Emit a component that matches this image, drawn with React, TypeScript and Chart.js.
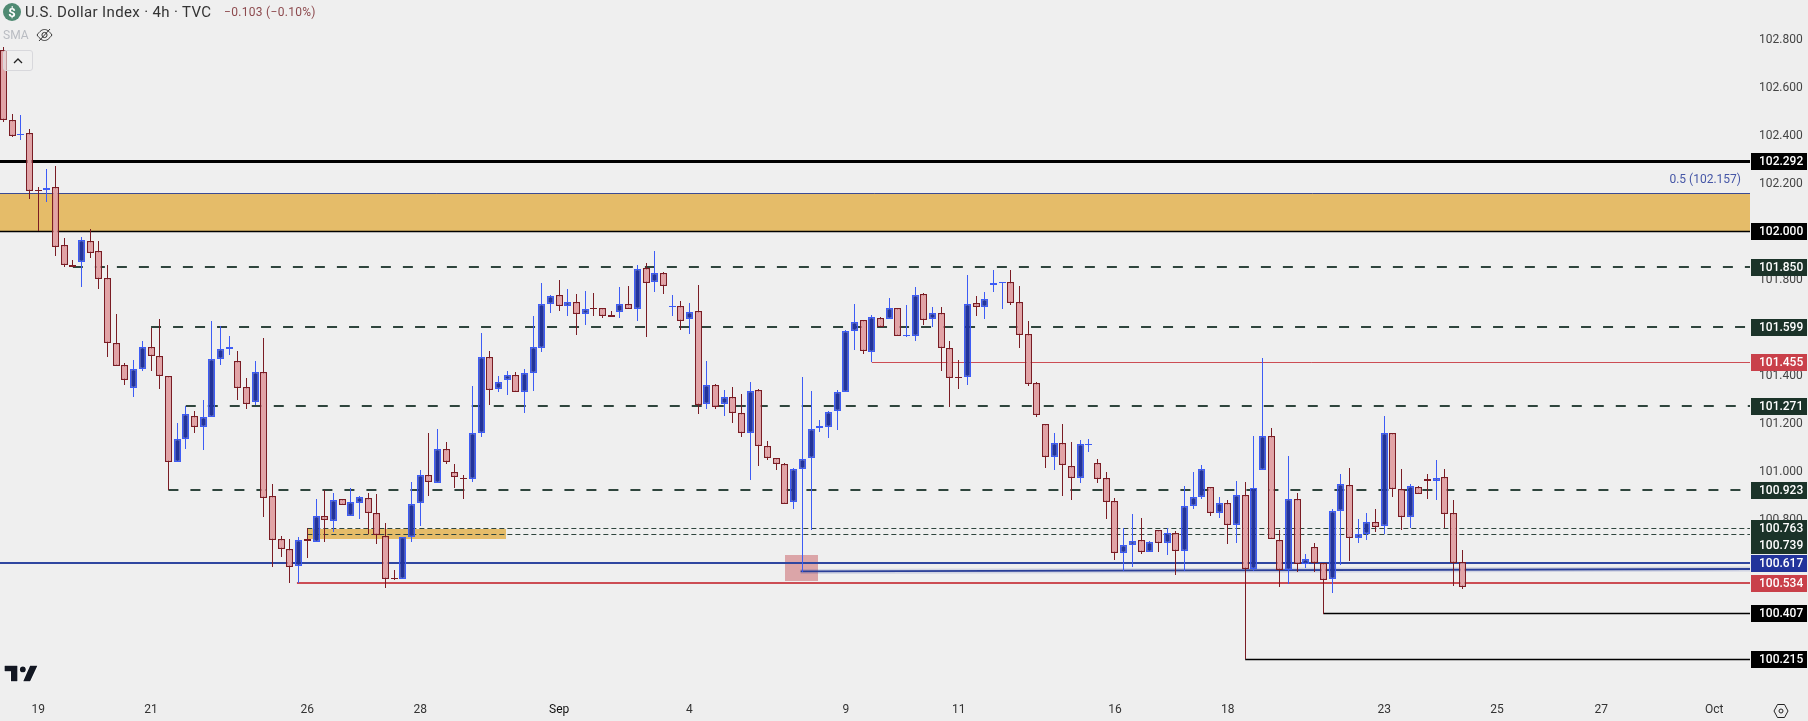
import React, { useEffect, useRef } from "react";
import { Chart, registerables } from "chart.js";

Chart.register(...registerables);

const opens = [
  102.753, 102.461, 102.401, 102.407, 102.171, 102.170, 102.182, 101.941, 101.860, 101.873,
  101.957, 101.916, 101.803, 101.532, 101.441, 101.345, 101.424, 101.516, 101.478, 101.395,
  101.036, 101.132, 101.231, 101.182, 101.224, 101.466, 101.507, 101.457, 101.349, 101.286,
  101.411, 100.895, 100.716, 100.674, 100.603, 100.716, 100.703, 100.811, 100.791, 100.882,
  100.811, 100.866, 100.886, 100.824, 100.728, 100.553, 100.549, 100.724, 100.866, 100.982,
  100.949, 101.091, 100.995, 100.971, 100.966, 101.157, 101.474, 101.341, 101.378, 101.399,
  101.328, 101.407, 101.511, 101.695, 101.732, 101.686, 101.703, 101.653, 101.679, 101.678,
  101.649, 101.661, 101.695, 101.674, 101.845, 101.786, 101.824, 101.685, 101.686, 101.632,
  101.666, 101.278, 101.357, 101.278, 101.307, 101.240, 101.157, 101.336, 101.103, 101.053,
  101.028, 100.870, 101.007, 101.053, 101.178, 101.182, 101.249, 101.328, 101.582, 101.628,
  101.495, 101.636, 101.632, 101.678, 101.563, 101.561, 101.736, 101.632, 101.657, 101.511,
  101.391, 101.390, 101.699, 101.682, 101.774, 101.785, 101.786, 101.703, 101.570, 101.365,
  101.195, 101.057, 101.116, 101.020, 100.970, 101.110, 101.032, 100.970, 100.874, 100.657,
  100.691, 100.711, 100.661, 100.753, 100.699, 100.741, 100.665, 100.853, 100.891, 100.932,
  100.824, 100.866, 100.774, 100.899, 100.593, 101.003, 101.145, 100.711, 100.589, 100.882,
  100.611, 100.682, 100.615, 100.549, 100.832, 100.941, 100.720, 100.736, 100.786, 100.770,
  101.157, 100.924, 100.807, 100.932, 100.966, 100.957, 100.974, 100.824, 100.620,
];
const highs = [
  102.768, 102.488, 102.484, 102.424, 102.182, 102.259, 102.271, 101.971, 101.878, 101.974,
  102.009, 101.959, 101.857, 101.654, 101.449, 101.463, 101.542, 101.598, 101.634, 101.395,
  101.200, 101.273, 101.250, 101.296, 101.625, 101.605, 101.563, 101.500, 101.388, 101.459,
  101.555, 100.946, 100.730, 100.716, 100.724, 100.761, 100.884, 100.921, 100.907, 100.882,
  100.930, 100.896, 100.907, 100.905, 100.782, 100.588, 100.724, 100.955, 101.003, 101.159,
  101.175, 101.121, 101.029, 100.982, 101.354, 101.575, 101.500, 101.396, 101.417, 101.413,
  101.425, 101.646, 101.784, 101.734, 101.796, 101.759, 101.738, 101.750, 101.742, 101.678,
  101.666, 101.767, 101.771, 101.859, 101.867, 101.917, 101.828, 101.734, 101.709, 101.700,
  101.775, 101.459, 101.363, 101.338, 101.350, 101.321, 101.371, 101.342, 101.125, 101.053,
  101.034, 101.013, 101.392, 101.334, 101.213, 101.250, 101.338, 101.588, 101.696, 101.628,
  101.650, 101.640, 101.721, 101.678, 101.692, 101.767, 101.742, 101.684, 101.684, 101.542,
  101.463, 101.817, 101.729, 101.746, 101.838, 101.786, 101.838, 101.771, 101.625, 101.370,
  101.195, 101.159, 101.196, 101.121, 101.129, 101.134, 101.050, 100.995, 100.886, 100.761,
  100.821, 100.803, 100.709, 100.753, 100.761, 100.749, 100.936, 100.996, 101.025, 100.932,
  100.892, 100.878, 100.959, 100.953, 101.146, 101.471, 101.178, 100.753, 101.063, 100.907,
  100.654, 100.700, 100.615, 100.842, 100.988, 101.013, 100.800, 100.825, 100.842, 101.229,
  101.157, 101.009, 100.945, 100.936, 100.988, 101.046, 101.009, 100.879, 100.671,
];
const lows = [
  102.456, 102.393, 102.381, 102.134, 102.002, 102.123, 101.898, 101.852, 101.849, 101.768,
  101.889, 101.760, 101.477, 101.436, 101.360, 101.310, 101.418, 101.418, 101.343, 100.921,
  101.036, 101.093, 101.160, 101.089, 101.224, 101.443, 101.485, 101.298, 101.260, 101.274,
  100.810, 100.602, 100.643, 100.535, 100.535, 100.638, 100.703, 100.706, 100.748, 100.857,
  100.811, 100.802, 100.736, 100.698, 100.514, 100.545, 100.549, 100.706, 100.773, 100.898,
  100.949, 101.031, 100.931, 100.885, 100.956, 101.142, 101.275, 101.331, 101.318, 101.328,
  101.243, 101.334, 101.498, 101.659, 101.667, 101.646, 101.567, 101.609, 101.646, 101.639,
  101.640, 101.638, 101.674, 101.625, 101.559, 101.746, 101.738, 101.646, 101.588, 101.571,
  101.238, 101.259, 101.260, 101.229, 101.200, 101.142, 100.963, 101.021, 101.048, 101.004,
  100.861, 100.842, 100.578, 100.754, 101.163, 101.138, 101.171, 101.328, 101.504, 101.488,
  101.453, 101.599, 101.632, 101.561, 101.560, 101.542, 101.609, 101.600, 101.417, 101.267,
  101.342, 101.359, 101.646, 101.634, 101.746, 101.675, 101.692, 101.513, 101.354, 101.225,
  101.013, 101.004, 100.896, 100.879, 100.950, 101.079, 100.950, 100.800, 100.629, 100.584,
  100.600, 100.654, 100.661, 100.663, 100.650, 100.567, 100.584, 100.842, 100.882, 100.813,
  100.804, 100.696, 100.700, 100.215, 100.584, 101.003, 100.716, 100.518, 100.531, 100.579,
  100.596, 100.579, 100.404, 100.493, 100.610, 100.627, 100.702, 100.714, 100.748, 100.736,
  100.892, 100.753, 100.761, 100.903, 100.885, 100.879, 100.761, 100.521, 100.510,
];
const closes = [
  102.461, 102.398, 102.405, 102.168, 102.169, 102.178, 101.935, 101.860, 101.849, 101.961,
  101.910, 101.799, 101.532, 101.436, 101.378, 101.424, 101.516, 101.478, 101.395, 101.036,
  101.132, 101.236, 101.182, 101.224, 101.466, 101.507, 101.516, 101.345, 101.281, 101.411,
  100.886, 100.711, 100.674, 100.599, 100.711, 100.707, 100.811, 100.795, 100.878, 100.857,
  100.870, 100.891, 100.824, 100.732, 100.549, 100.549, 100.724, 100.861, 100.982, 100.953,
  101.091, 101.036, 100.974, 100.969, 101.157, 101.474, 101.336, 101.370, 101.399, 101.328,
  101.407, 101.515, 101.695, 101.728, 101.686, 101.703, 101.653, 101.674, 101.677, 101.645,
  101.640, 101.695, 101.674, 101.841, 101.782, 101.824, 101.770, 101.687, 101.624, 101.661,
  101.274, 101.357, 101.266, 101.307, 101.240, 101.157, 101.332, 101.103, 101.053, 101.028,
  100.861, 101.007, 101.049, 101.174, 101.186, 101.245, 101.328, 101.582, 101.620, 101.499,
  101.640, 101.602, 101.678, 101.561, 101.565, 101.732, 101.628, 101.657, 101.511, 101.386,
  101.389, 101.695, 101.682, 101.715, 101.782, 101.786, 101.699, 101.565, 101.361, 101.232,
  101.057, 101.116, 101.024, 100.970, 101.111, 101.112, 100.966, 100.870, 100.657, 100.691,
  100.707, 100.661, 100.703, 100.699, 100.741, 100.665, 100.853, 100.891, 101.007, 100.824,
  100.866, 100.774, 100.899, 100.593, 100.928, 101.145, 100.716, 100.589, 100.882, 100.611,
  100.632, 100.615, 100.545, 100.832, 100.945, 100.720, 100.736, 100.786, 100.766, 101.157,
  100.924, 100.807, 100.936, 100.903, 100.957, 100.970, 100.820, 100.615, 100.515,
];

const yTickValues = [102.8, 102.6, 102.4, 102.2, 102.0, 101.8, 101.6, 101.4, 101.2, 101.0, 100.8, 100.6, 100.4, 100.2];
const xTickIndexes = [4, 17, 35, 48, 64, 79, 97, 110, 128, 141, 159, 172, 184, 197];
const xTickLabels = ["19", "21", "26", "28", "Sep", "4", "9", "11", "16", "18", "23", "25", "27", "Oct"];

const thickBlackLevel = 102.292;
const blackLevels = [102.0, 100.407, 100.215];
const blackStarts = [-1, 152, 143];
const dashedLevels = [101.85, 101.599, 101.271, 100.923];
const dashedStarts = [8, 17, 21, 19];
const thinDashedLevels = [100.763, 100.739];
const thinDashedStarts = [35, 35];
const blueLevel = 100.617;
const fibLevel = 102.157;
const redLevels = [100.534, 101.455];
const redStarts = [33.8, 100];
const trendX = [91.8, 201.2];
const trendY = [100.582, 100.592];

const bandStarts = [-1, 35, 90];
const bandEnds = [201.2, 57.9, 93.8];
const bandTops = [102.157, 100.758, 100.65];
const bandBottoms = [102.0, 100.717, 100.542];

const tagValues = [102.292, 102.0, 101.85, 101.599, 101.455, 101.271, 100.923, 100.763, 100.739, 100.617, 100.534, 100.407, 100.215];
const tagKinds = ["black", "black", "green", "green", "red", "green", "green", "green", "green", "blue", "red", "black", "black"];

const X_MIN = -0.3938;
const X_MAX = 201.13;
const Y_MIN = 100.0461;
const Y_MAX = 102.9628;

const FONT = "Roboto, 'Liberation Sans', sans-serif";
const UP_FILL = "#22339b";
const UP_LINE = "#3d5cf5";
const DOWN_FILL = "#e3a3a6";
const DOWN_LINE = "#7a1c24";
const TAG_COLORS: Record<string, string> = { black: "#000000", green: "#1b3329", red: "#c9404a", blue: "#22339b" };
const BAND_COLORS = ["#e5bc69", "#e5bc69", "rgba(203,103,110,0.55)"];

const isUp = (i: number) => closes[i] >= opens[i];

const levelLine = (value: number, start: number, color: string, width: number, dash: number[], order: number) => ({
  type: "line" as const,
  data: [{ x: start, y: value }, { x: 201.2, y: value }],
  borderColor: color,
  borderWidth: width,
  borderDash: dash,
  pointRadius: 0,
  order,
});

const decorPlugin = {
  id: "decor",
  afterDatasetUpdate(chart: any, args: any) {
    // keep the marks on whole device pixels, the way the reference renders them
    const meta = chart.getDatasetMeta(args.index);
    if (meta.type === "bar") {
      meta.data.forEach((el: any) => {
        el.x = Math.floor(el.x) + 0.5;
        let top = Math.round(Math.min(el.y, el.base));
        let bottom = Math.round(Math.max(el.y, el.base));
        if (bottom - top < 1) bottom = top + 1;
        el.y = top;
        el.base = bottom;
        el.height = bottom - top;
      });
    } else if (meta.type === "line") {
      const pts = meta.data;
      if (Math.abs(pts[0].y - pts[1].y) < 0.01) {
        const w = chart.data.datasets[args.index].borderWidth;
        const y = w === 2 ? Math.round(pts[0].y) : Math.round(pts[0].y) + 0.5;
        pts.forEach((p: any) => {
          p.y = y;
        });
      }
    }
  },
  beforeDraw(chart: any) {
    const { ctx, chartArea: a, scales } = chart;
    ctx.save();
    ctx.fillStyle = "#eeeeee";
    ctx.fillRect(0, 0, chart.width, chart.height);
    ctx.fillStyle = "#efefef";
    ctx.fillRect(a.left, a.top, a.right - a.left, a.bottom - a.top);
    ctx.restore();
    if (!scales.y._nudged) {
      scales.y.getLabelItems(a).forEach((item: any) => {
        item.options.translation = [item.options.translation[0], item.options.translation[1] + 1];
      });
      scales.y._nudged = true;
    }
  },
  beforeDatasetsDraw(chart: any) {
    const { ctx, scales } = chart;
    ctx.save();
    bandStarts.forEach((s, k) => {
      const x0 = Math.round(Math.max(scales.x.getPixelForValue(s), chart.chartArea.left));
      const x1 = Math.round(Math.min(scales.x.getPixelForValue(bandEnds[k]), chart.chartArea.right));
      const y0 = Math.round(scales.y.getPixelForValue(bandTops[k]));
      const y1 = Math.round(scales.y.getPixelForValue(bandBottoms[k]));
      ctx.fillStyle = BAND_COLORS[k];
      ctx.fillRect(x0, y0, x1 - x0, y1 - y0);
    });
    ctx.restore();
  },
  afterDraw(chart: any) {
    const { ctx, scales, chartArea: a } = chart;
    ctx.save();
    ctx.font = `12px ${FONT}`;
    ctx.fillStyle = "#4556a6";
    ctx.textAlign = "right";
    ctx.textBaseline = "middle";
    ctx.fillText(`0.5 (${fibLevel.toFixed(3)})`, a.right - 9, scales.y.getPixelForValue(fibLevel) - 13);

    ctx.textAlign = "left";
    ctx.font = `500 12px ${FONT}`;
    tagValues.forEach((v, k) => {
      let y = Math.round(scales.y.getPixelForValue(v));
      if (v === 100.739) y += 11;
      ctx.fillStyle = TAG_COLORS[tagKinds[k]];
      ctx.fillRect(a.right + 1, y - 8, 56, 17);
      ctx.fillStyle = "#ffffff";
      ctx.fillText(v.toFixed(3), a.right + 9, y + 1);
    });
    ctx.restore();
  },
};

function TvLogo() {
  return (
    <svg width="36" height="20" viewBox="-1 -1 38 22" style={{ position: "absolute", left: 3, top: 664 }}>
      <g stroke="#ffffff" strokeWidth="1.5" fill="#131722" paintOrder="stroke">
        <path d="M14 18H7V7H0V1h14v17z" />
        <circle cx="20" cy="5" r="3.2" />
        <path d="M28 18h-7.5L28 1h8l-8 17z" />
      </g>
    </svg>
  );
}

export default function App() {
  const ref = useRef<HTMLCanvasElement | null>(null);

  useEffect(() => {
    document.body.style.margin = "0";
    const n = opens.length;
    const idx = Array.from({ length: n }, (_, i) => i);
    const chart = new Chart(ref.current as HTMLCanvasElement, {
      type: "bar",
      data: {
        datasets: [
          {
            data: idx.map((i) => ({ x: i, y: [Math.min(opens[i], closes[i]), Math.max(opens[i], closes[i])] })),
            backgroundColor: idx.map((i) => (isUp(i) ? UP_FILL : DOWN_FILL)),
            borderColor: idx.map((i) => (isUp(i) ? UP_LINE : DOWN_LINE)),
            borderWidth: 1.3,
            borderSkipped: false,
            inflateAmount: 0,
            grouped: false,
            barPercentage: 1,
            categoryPercentage: 1,
            maxBarThickness: 7,
            order: 1,
          },
          {
            data: idx.map((i) => ({ x: i, y: [lows[i], highs[i]] })),
            backgroundColor: idx.map((i) => (isUp(i) ? UP_LINE : DOWN_LINE)),
            borderWidth: 0,
            inflateAmount: 0,
            grouped: false,
            barPercentage: 1,
            categoryPercentage: 1,
            maxBarThickness: 1,
            order: 2,
          },
          levelLine(thickBlackLevel, -1, "#000000", 3, [], 3),
          ...blackLevels.map((v, k) => levelLine(v, blackStarts[k], "#000000", 1.5, [], 3)),
          ...dashedLevels.map((v, k) => levelLine(v, dashedStarts[k], "#2f453d", 2, [10, 12], 4)),
          ...thinDashedLevels.map((v, k) => levelLine(v, thinDashedStarts[k], "#2f453d", 1, [5, 3], 4)),
          levelLine(blueLevel, -1, "#2f46a0", 2, [], 3),
          levelLine(fibLevel, -1, "#3a4a94", 1, [], 3),
          ...redLevels.map((v, k) => levelLine(v, redStarts[k], "#cc4d54", k === 0 ? 2 : 1, [], 3)),
          {
            type: "line" as const,
            data: trendX.map((x, k) => ({ x, y: trendY[k] })),
            borderColor: "rgba(42,63,152,0.15)",
            borderWidth: 5,
            pointRadius: 0,
            order: 5,
          },
          {
            type: "line" as const,
            data: trendX.map((x, k) => ({ x, y: trendY[k] })),
            borderColor: "#2a3f98",
            borderWidth: 1.8,
            pointRadius: 0,
            order: 3,
          },
        ] as any,
      },
      options: {
        responsive: false,
        animation: false,
        devicePixelRatio: 1,
        layout: { padding: 0 },
        plugins: { legend: { display: false }, tooltip: { enabled: false } },
        events: [],
        scales: {
          x: {
            type: "linear",
            min: X_MIN,
            max: X_MAX,
            offset: false,
            grid: { display: false, drawTicks: false },
            border: { display: false },
            afterBuildTicks: (s: any) => {
              s.ticks = xTickIndexes.map((value) => ({ value }));
            },
            afterFit: (s: any) => {
              s.height = 21;
              s.paddingLeft = 0;
              s.paddingRight = 0;
            },
            ticks: {
              autoSkip: false,
              maxRotation: 0,
              padding: 3,
              color: (c: any) => (c.index === 4 ? "#111111" : "#333333"),
              font: { family: FONT, size: 12 },
              callback: (v: any) => xTickLabels[xTickIndexes.indexOf(Number(v))],
            },
          },
          y: {
            type: "linear",
            position: "right",
            min: Y_MIN,
            max: Y_MAX,
            grid: { display: false, drawTicks: false },
            border: { display: false },
            afterBuildTicks: (s: any) => {
              s.ticks = yTickValues.map((value) => ({ value }));
            },
            afterFit: (s: any) => {
              s.width = 58;
              s.paddingTop = 0;
              s.paddingBottom = 0;
            },
            ticks: {
              padding: 9,
              color: "#444444",
              font: { family: FONT, size: 12 },
              callback: (v: any) => Number(v).toFixed(3),
            },
          },
        },
      } as any,
      plugins: [decorPlugin],
    });
    return () => chart.destroy();
  }, []);

  return (
    <div style={{ position: "fixed", left: 0, top: 0, width: 1808, height: 721, overflow: "hidden", background: "#eeeeee" }}>
      <canvas ref={ref} width={1808} height={721} style={{ display: "block" }} />
      <svg width="18" height="18" viewBox="0 0 18 18" style={{ position: "absolute", left: 3, top: 3 }}>
        <circle cx="9" cy="9" r="9" fill="#4f8a72" />
        <text x="9" y="13.5" textAnchor="middle" fill="#ffffff" fontSize="13" fontWeight="700" fontFamily={FONT}>$</text>
      </svg>
      <div style={{ position: "absolute", left: 25, top: 2, font: `15px/20px ${FONT}`, color: "#333", letterSpacing: 0.35, whiteSpace: "nowrap" }}>
        U.S. Dollar Index · 4h · TVC
      </div>
      <div style={{ position: "absolute", left: 224, top: 3, font: `12px/18px ${FONT}`, color: "#8d4a4e", letterSpacing: 0.3, whiteSpace: "nowrap" }}>
        −0.103 (−0.10%)
      </div>
      <div style={{ position: "absolute", left: 3, top: 27, font: `12px/16px ${FONT}`, color: "#b9bcc2", whiteSpace: "nowrap" }}>SMA</div>
      <svg width="17" height="14" viewBox="0 0 17 14" style={{ position: "absolute", left: 36, top: 28 }}>
        <path d="M1 7c3-4 5-5.5 7.5-5.5S13 3 16 7c-3 4-5 5.5-7.5 5.5S4 11 1 7z" fill="none" stroke="#333" strokeWidth="1" />
        <circle cx="8.5" cy="7" r="2.6" fill="none" stroke="#333" strokeWidth="1" />
        <path d="M3 13L14 1" stroke="#333" strokeWidth="1" />
      </svg>
      <div style={{ position: "absolute", left: 3, top: 50, width: 28, height: 19, border: "1px solid #d8d8dc", borderRadius: 3, background: "rgba(240,240,240,0.6)" }}>
        <svg width="10" height="6" viewBox="0 0 10 6" style={{ position: "absolute", left: 9, top: 7 }}>
          <path d="M1 5l4-4 4 4" fill="none" stroke="#222" strokeWidth="1.3" />
        </svg>
      </div>
      <TvLogo />
      <svg width="16" height="16" viewBox="0 0 16 16" style={{ position: "absolute", left: 1773, top: 703 }}>
        <path d="M4.5 1.5h7L15 8l-3.500 6.500h-7L1 8z" fill="none" stroke="#222" strokeWidth="1" />
        <circle cx="8" cy="8" r="2" fill="none" stroke="#222" strokeWidth="1" />
      </svg>
    </div>
  );
}
